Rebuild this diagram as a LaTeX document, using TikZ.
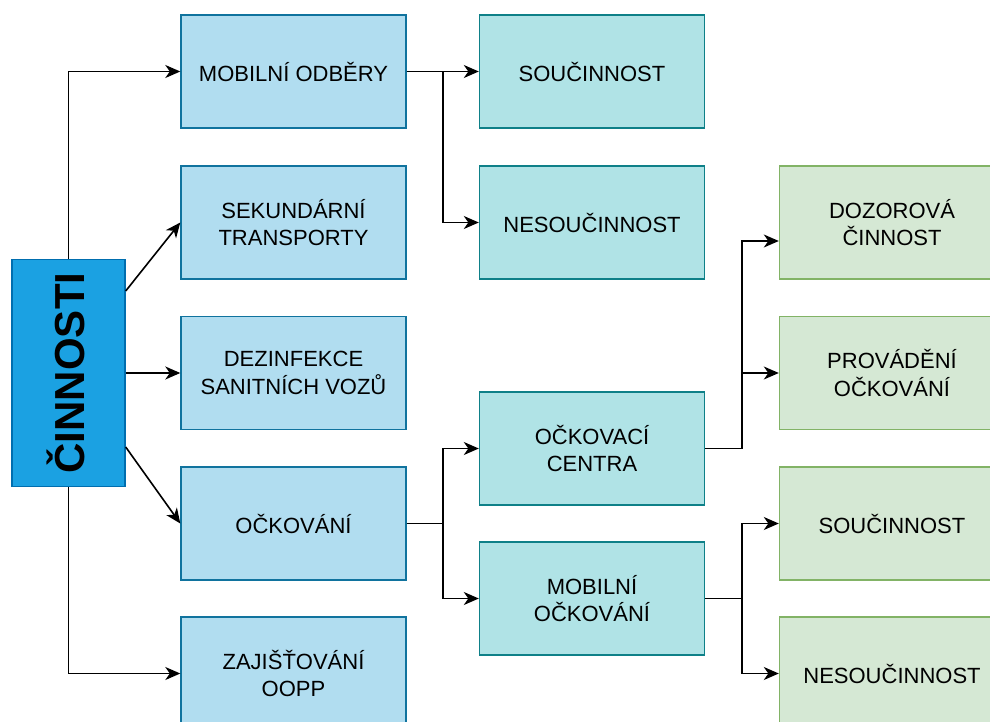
\documentclass[tikz,border=0pt]{standalone}
\usepackage{fontspec}
\setmainfont{Liberation Sans}
\usepackage{tikz}
\usetikzlibrary{arrows.meta, positioning}

\definecolor{mainFill}{HTML}{1BA1E2}
\definecolor{mainLine}{HTML}{006EAF}
\definecolor{catFill}{HTML}{B1DDF0}
\definecolor{catLine}{HTML}{10739E}
\definecolor{subFill}{HTML}{B0E3E6}
\definecolor{subLine}{HTML}{0E8088}
\definecolor{leafFill}{HTML}{D5E8D4}
\definecolor{leafLine}{HTML}{82B366}

\begin{document}
\begin{tikzpicture}[
    x=1pt, y=-1pt,
    boxNode/.style={rectangle, line width=1.4pt, minimum width=225pt, minimum height=113pt, inner sep=2pt, align=center, font=\fontsize{22}{27.5}\selectfont},
    mainNode/.style={rectangle, fill=mainFill, draw=mainLine, line width=1.4pt, minimum width=113pt, minimum height=227pt, inner sep=0pt},
    catNode/.style={boxNode, fill=catFill, draw=catLine},
    subNode/.style={boxNode, fill=subFill, draw=subLine},
    leafNode/.style={boxNode, fill=leafFill, draw=leafLine},
    arrowRel/.style={-{Stealth[length=15pt, width=13pt, inset=4.5pt]}, line width=1.6pt}
]
    % Canvas
    \useasboundingbox (0,0) rectangle (990,722);
    \begin{scope}
    \clip (0,0) rectangle (990,722);

    % Root
    \node[mainNode] (cin) at (68.5,373) {};
    \node[rotate=90, font=\fontsize{42}{42}\bfseries] at (66,373) {ČINNOSTI};

    % Activities
    \node[catNode] (mo) at (293.5,71.5)  {MOBILNÍ ODBĚRY};
    \node[catNode] (st) at (293.5,222.5) {SEKUNDÁRNÍ\\TRANSPORTY};
    \node[catNode] (dz) at (293.5,373)   {DEZINFEKCE\\SANITNÍCH VOZŮ};
    \node[catNode] (oc) at (293.5,523.5) {OČKOVÁNÍ};
    \node[catNode] (za) at (293.5,673.5) {ZAJIŠŤOVÁNÍ\\OOPP};

    % Second level
    \node[subNode] (sp) at (592,71.5)  {SOUČINNOST};
    \node[subNode] (ns) at (592,222.5) {NESOUČINNOST};
    \node[subNode] (oz) at (592,448.5) {OČKOVACÍ\\CENTRA};
    \node[subNode] (mx) at (592,598.5) {MOBILNÍ\\OČKOVÁNÍ};

    % Third level
    \node[leafNode] (dc) at (892,222.5) {DOZOROVÁ\\ČINNOST};
    \node[leafNode] (pv) at (892,373)   {PROVÁDĚNÍ\\OČKOVÁNÍ};
    \node[leafNode] (sg) at (892,523.5) {SOUČINNOST};
    \node[leafNode] (ng) at (892,673.5) {NESOUČINNOST};

    % Links from root
    \draw[arrowRel] (cin.north) |- (mo.west);
    \draw[arrowRel] ([yshift=82pt]cin.east) -- (st.west);
    \draw[arrowRel] (cin.east) -- (dz.west);
    \draw[arrowRel] ([yshift=-74pt]cin.east) -- (oc.west);
    \draw[arrowRel] (cin.south) |- (za.west);

    % Links to second level
    \draw[arrowRel] (mo.east) -- (sp.west);
    \draw[arrowRel] (mo.east) -- ++(36,0) |- (ns.west);
    \draw[arrowRel] (oc.east) -- ++(36,0) |- (oz.west);
    \draw[arrowRel] (oc.east) -- ++(36,0) |- (mx.west);

    % Links to third level
    \draw[arrowRel] (oz.east) -- ++(37,0) |- ([yshift=-18.5pt]dc.west);
    \draw[arrowRel] (oz.east) -- ++(37,0) |- (pv.west);
    \draw[arrowRel] (mx.east) -- ++(37,0) |- (sg.west);
    \draw[arrowRel] (mx.east) -- ++(37,0) |- (ng.west);
    \end{scope}
\end{tikzpicture}
\end{document}
